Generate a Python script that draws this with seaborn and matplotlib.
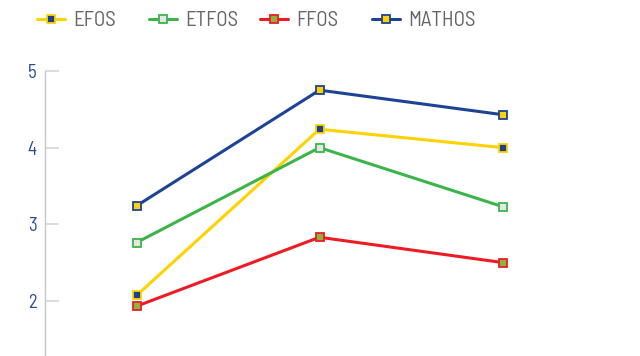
import matplotlib
matplotlib.use("Agg")
import matplotlib.pyplot as plt
import seaborn as sns
import pandas as pd

# survey rounds (no labels shown on the chart)
rounds = ["R1", "R2", "R3"]

efos = [2.07, 4.24, 4.00]
etfos = [2.76, 4.00, 3.23]
ffos = [1.93, 2.83, 2.50]
mathos = [3.24, 4.75, 4.43]

series = [
    ("EFOS", efos, "#FFD200", "#1F3F8F"),
    ("ETFOS", etfos, "#3BB54A", "#E6E6E6"),
    ("FFOS", ffos, "#ED1C24", "#8CB43C"),
    ("MATHOS", mathos, "#1E4396", "#FFD200"),
]

sns.set_style("white")
plt.rcParams["font.family"] = ["Barlow Semi Condensed", "DejaVu Sans"]

fig = plt.figure(figsize=(6.4, 3.56), dpi=100)
ax = fig.add_axes([45 / 640, 0.0, 549 / 640, 1 - 71 / 356])

for name, vals, col, face in series:
    df = pd.DataFrame({"round": rounds, "score": vals})
    sns.lineplot(data=df, x="round", y="score", ax=ax, color=col,
                 linewidth=2.2, marker="s", markersize=6,
                 markerfacecolor=face, markeredgecolor=col,
                 markeredgewidth=1.3, label=name)

ax.set_xlim(-0.5, 2.5)
ax.set_ylim(1.28, 5.0)
ax.set_yticks([2, 3, 4, 5])
ax.set_xticks([])
ax.set_xlabel("")
ax.set_ylabel("")

for side in ["top", "right", "bottom"]:
    ax.spines[side].set_visible(False)
ax.spines["left"].set_color("#C8C8C8")
ax.spines["left"].set_linewidth(1.0)
ax.tick_params(axis="y", left=True, direction="in", length=10, width=1.2,
               color="#D6D6D6", labelcolor="#2A4C9A", labelsize=13.5, pad=6)

# one legend per entry so the entries sit at even spacing like the original
handles, labels = ax.get_legend_handles_labels()
ax.get_legend().remove()
for i, (h, l) in enumerate(zip(handles, labels)):
    fig.legend([h], [l], loc="center left",
               bbox_to_anchor=((37 + 111.5 * i) / 640, 1 - 21 / 356),
               frameon=False, fontsize=15, handlelength=1.35,
               handletextpad=0.4, borderpad=0, borderaxespad=0,
               labelcolor="#666666")

fig.savefig("out.png", dpi=100)
